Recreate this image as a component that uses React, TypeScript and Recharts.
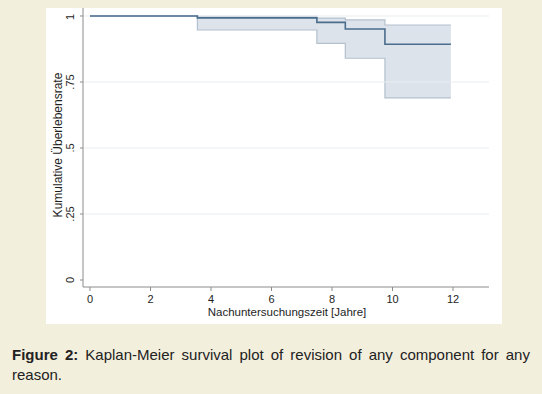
import { ComposedChart, Area, Line, XAxis, YAxis, ReferenceLine } from "recharts";

// Kaplan-Meier estimate with 95% CI
const years = [0, 3.55, 7.5, 8.44, 9.75, 11.93];
const survival = [1, 0.993, 0.976, 0.951, 0.893, 0.893];
const upperCI = [1, 0.999, 0.992, 0.985, 0.966, 0.966];
const lowerCI = [1, 0.947, 0.896, 0.84, 0.69, 0.69];

const xTicks = [0, 2, 4, 6, 8, 10, 12];
const yTicks = [0, 0.25, 0.5, 0.75, 1];
const yTickLabels = ["0", ".25", ".5", ".75", "1"];
const gridValues = [0.25, 0.5, 0.75, 1];

const data = years.map((t, i) => ({
  t,
  s: survival[i],
  ci: [lowerCI[i], upperCI[i]],
}));

const FONT = "'Liberation Sans', Arial, Helvetica, sans-serif";

const YTick = ({ y, payload }: any) => {
  const idx = yTicks.indexOf(payload.value);
  return (
    <text
      x={28}
      y={y}
      transform={`rotate(-90, 28, ${y})`}
      textAnchor="middle"
      fontSize={11}
      fontFamily={FONT}
      fill="#1e1e1e"
    >
      {yTickLabels[idx]}
    </text>
  );
};

const XTick = ({ x, payload }: any) => (
  <text x={x} y={295} textAnchor="middle" fontSize={11} fontFamily={FONT} fill="#1e1e1e">
    {payload.value}
  </text>
);

const YLabel = () => (
  <text
    x={16}
    y={137}
    transform="rotate(-90, 16, 137)"
    textAnchor="middle"
    fontSize={12}
    fontFamily={FONT}
    fill="#1e1e1e"
  >
    Kumulative Überlebensrate
  </text>
);

const XLabel = () => (
  <text x={241} y={308} textAnchor="middle" fontSize={11.5} fontFamily={FONT} fill="#1e1e1e">
    Nachuntersuchungszeit [Jahre]
  </text>
);

export default function App() {
  return (
    <div
      style={{
        position: "absolute",
        left: 0,
        top: 0,
        width: 542,
        height: 394,
        background: "#f3efdd",
        fontFamily: FONT,
      }}
    >
      <div style={{ position: "absolute", left: 46, top: 8, width: 456, height: 316, background: "#fff" }}>
        <ComposedChart
          width={456}
          height={316}
          data={data}
          margin={{ top: 0, right: 13, bottom: 0, left: 0 }}
        >
          <XAxis
            type="number"
            dataKey="t"
            domain={[-0.2314, 13.19]}
            ticks={xTicks}
            allowDataOverflow
            height={37}
            tickSize={4}
            stroke="#8c8c8c"
            tick={<XTick />}
            label={<XLabel />}
          />
          <YAxis
            type="number"
            domain={[-0.0265, 1.0303]}
            ticks={yTicks}
            allowDataOverflow
            width={37}
            tickSize={3}
            stroke="#8c8c8c"
            tick={<YTick />}
            label={<YLabel />}
          />
          {gridValues.map((v) => (
            <ReferenceLine key={v} y={v} stroke="#e9eef1" strokeWidth={1} />
          ))}
          <Area
            type="stepAfter"
            dataKey="ci"
            fill="#dde3eb"
            fillOpacity={1}
            stroke="#b3c0cd"
            strokeWidth={1.2}
            isAnimationActive={false}
          />
          <Line
            type="stepAfter"
            dataKey="s"
            stroke="#4a6c8d"
            strokeWidth={1.6}
            dot={false}
            isAnimationActive={false}
          />
        </ComposedChart>
      </div>
      <div
        style={{
          position: "absolute",
          left: 12,
          top: 345,
          width: 518,
          fontSize: 15,
          lineHeight: "20px",
          color: "#222",
          fontFamily: FONT,
        }}
      >
        <div style={{ display: "flex", justifyContent: "space-between", whiteSpace: "pre" }}>
          {"Figure 2: Kaplan-Meier survival plot of revision of any component for any"
            .split(" ")
            .map((w, i) => (
              <span key={i} style={{ fontWeight: i < 2 ? "bold" : "normal" }}>
                {w}
              </span>
            ))}
        </div>
        <div>reason.</div>
      </div>
    </div>
  );
}
